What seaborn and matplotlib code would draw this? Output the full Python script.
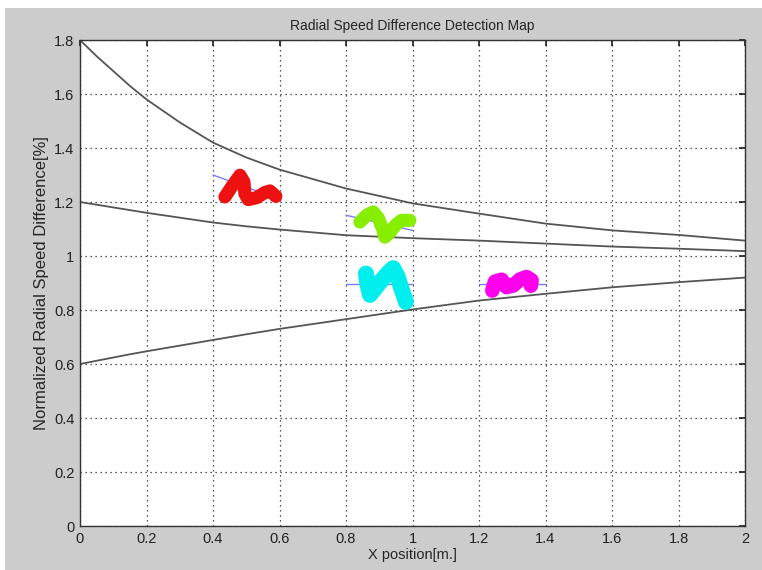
import matplotlib
matplotlib.use("Agg")
import matplotlib.pyplot as plt
import seaborn as sns
import pandas as pd

# boundary curves
curve_x = [0, 0.05, 0.1, 0.15, 0.2, 0.3, 0.4, 0.5, 0.6, 0.8, 1.0, 1.2, 1.4, 1.6, 1.8, 2.0]
upper_y = [1.8, 1.74, 1.685, 1.63, 1.58, 1.495, 1.42, 1.365, 1.32, 1.25, 1.195, 1.157, 1.12, 1.095, 1.078, 1.057]
middle_y = [1.2, 1.19, 1.18, 1.17, 1.16, 1.142, 1.124, 1.11, 1.098, 1.077, 1.066, 1.057, 1.046, 1.035, 1.027, 1.018]
lower_y = [0.6, 0.612, 0.624, 0.636, 0.647, 0.668, 0.689, 0.71, 0.73, 0.766, 0.802, 0.835, 0.86, 0.884, 0.903, 0.92]

# thin blue reference segments
ref_x = [[0.4, 0.6], [0.8, 1.0], [0.8, 1.0], [1.2, 1.4]]
ref_y = [[1.30, 1.21], [1.151, 1.095], [0.898, 0.898], [0.898, 0.898]]

# hand-drawn detection marks
red_x = [0.436, 0.456, 0.481, 0.493, 0.496, 0.506, 0.531, 0.556, 0.571, 0.589]
red_y = [1.219, 1.256, 1.299, 1.274, 1.231, 1.209, 1.216, 1.235, 1.241, 1.221]
green_x = [0.842, 0.862, 0.882, 0.897, 0.910, 0.917, 0.932, 0.950, 0.967, 0.992]
green_y = [1.126, 1.151, 1.163, 1.141, 1.101, 1.070, 1.087, 1.116, 1.132, 1.132]
cyan_x = [0.860, 0.864, 0.872, 0.887, 0.907, 0.927, 0.942, 0.955, 0.965, 0.975, 0.980]
cyan_y = [0.935, 0.898, 0.856, 0.879, 0.910, 0.938, 0.955, 0.925, 0.885, 0.850, 0.830]
magenta_x = [1.240, 1.248, 1.268, 1.283, 1.303, 1.323, 1.343, 1.358, 1.356]
magenta_y = [0.872, 0.905, 0.912, 0.885, 0.891, 0.913, 0.922, 0.910, 0.890]

ticks = [0, 0.2, 0.4, 0.6, 0.8, 1, 1.2, 1.4, 1.6, 1.8, 2]
tick_labels = ["0", "0.2", "0.4", "0.6", "0.8", "1", "1.2", "1.4", "1.6", "1.8", "2"]

sns.set_theme(style="white")
plt.rcParams["font.family"] = ["Liberation Sans Narrow", "Liberation Sans", "DejaVu Sans"]

fig = plt.figure(figsize=(7.62, 5.70), dpi=100, facecolor="white")
# grey matlab-like figure background (white strip top/left)
fig.patches.append(plt.Rectangle((5 / 762, 0), 1, 1 - 8 / 570, transform=fig.transFigure,
                                 facecolor="#cccccc", edgecolor="none", zorder=-10))
ax = fig.add_axes([80 / 762, 1 - 526 / 570, 665 / 762, 486 / 570])
ax.set_facecolor("white")

n = len(curve_x)
curves = pd.DataFrame({"x": curve_x * 3,
                       "y": upper_y + middle_y + lower_y,
                       "curve": ["upper"] * n + ["middle"] * n + ["lower"] * n})
sns.lineplot(data=curves, x="x", y="y", units="curve", estimator=None,
             color="#555555", linewidth=1.3, ax=ax)

for xs, ys in zip(ref_x, ref_y):
    sns.lineplot(x=xs, y=ys, color="#7b7bff", linewidth=1.0, ax=ax)

marks = [(red_x, red_y, "#ee1111", 9.5), (green_x, green_y, "#88ee00", 9.5),
         (cyan_x, cyan_y, "#00eeee", 11.5), (magenta_x, magenta_y, "#ff00ee", 10.5)]
for xs, ys, c, lw in marks:
    sns.lineplot(x=xs, y=ys, sort=False, color=c, linewidth=lw,
                 solid_capstyle="round", solid_joinstyle="round", ax=ax)

ax.set_xlim(0, 2)
ax.set_ylim(0, 1.8)
ax.set_xticks(ticks)
ax.set_xticklabels(tick_labels)
ax.set_yticks(ticks[:10])
ax.set_yticklabels(tick_labels[:10])
ax.grid(True, color="#222222", linestyle=(0, (1, 3)), linewidth=0.9)
ax.tick_params(direction="in", length=4, top=True, right=True, labelsize=10.5,
               colors="#222222", pad=4)
for s in ax.spines.values():
    s.set_visible(True)
    s.set_color("#333333")
    s.set_linewidth(1.0)

ax.set_title("Radial Speed Difference Detection Map", fontsize=10, pad=7)
ax.set_xlabel("X position[m.]", fontsize=10.5, labelpad=2)
ax.set_ylabel("Normalized Radial Speed Difference[%]", fontsize=12, labelpad=4)

fig.savefig("out.png", dpi=100, facecolor=fig.get_facecolor())
